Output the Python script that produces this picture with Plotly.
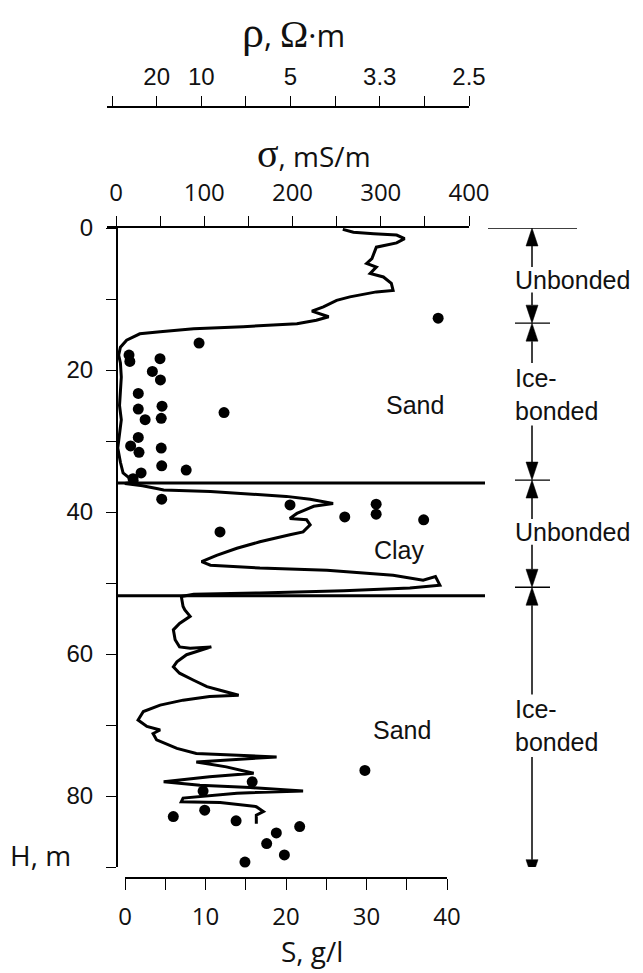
import plotly.graph_objects as go

# ---------------- data ----------------
# conductivity log: sigma (mS/m) vs depth H (m)
sigma_curve = [257, 269, 292, 318, 327, 318, 295, 290, 284, 295, 288, 303, 312, 314, 295, 265,
               250, 235, 222, 241, 227, 205, 144, 88, 50, 27, 12, 5, 3, 5, 6, 5, 4, 6, 4, 2, 5,
               8, 15, 25, 10, 30, 46, 54, 107, 163, 193, 220, 246, 224, 205, 197, 216, 220, 212,
               197, 163, 137, 114, 97, 107, 163, 239, 314, 348, 362, 367, 333, 258, 163, 88, 74,
               76, 78, 84, 72, 65, 67, 72, 84, 108, 80, 69, 65, 72, 88, 103, 118, 139, 106, 76,
               50, 31, 25, 35, 50, 42, 46, 69, 91, 182, 91, 125, 156, 106, 54, 95, 152, 212, 137,
               76, 74, 118, 159, 167, 159, 159]
depth_curve = [0.2, 0.6, 0.8, 1.0, 1.5, 2.1, 2.7, 4.3, 5.0, 5.5, 6.4, 6.9, 7.8, 8.8, 9.0, 9.7,
               10.2, 11.1, 11.7, 12.5, 13.0, 13.5, 13.9, 14.2, 14.6, 14.9, 15.8, 16.8, 17.9, 19.0,
               21.0, 23.0, 25.0, 27.0, 29.0, 31.0, 33.0, 34.5, 35.2, 35.7, 36.0, 36.3, 36.7, 36.9,
               37.1, 37.5, 37.8, 38.2, 38.8, 39.2, 40.2, 40.9, 41.1, 41.8, 42.8, 43.2, 44.2, 45.1,
               46.1, 47.0, 47.5, 47.9, 48.2, 48.9, 49.6, 49.1, 50.3, 50.7, 51.1, 51.4, 51.6, 51.9,
               53.3, 53.8, 54.7, 55.7, 56.6, 58.0, 59.0, 59.2, 59.0, 60.1, 61.1, 61.8, 62.7, 63.7,
               64.6, 65.1, 65.8, 66.0, 66.5, 67.2, 68.1, 69.3, 70.2, 70.7, 71.2, 72.1, 73.3, 74.0,
               74.5, 75.2, 75.9, 76.8, 77.3, 78.0, 78.5, 78.8, 79.3, 79.6, 80.3, 80.8, 80.9, 81.5,
               82.2, 82.7, 83.9]

# pore-water salinity S (g/l) vs depth H (m)
salinity_pts = [38.9, 9.2, 0.5, 0.6, 4.35, 3.4, 4.4, 1.65, 1.65, 4.6, 12.3, 2.5, 4.5, 1.65, 0.7,
                -0.4, 1.74, 4.5, 4.56, 7.6, 2.0, 1.0, 4.56, 20.5, 11.8, 27.3, 31.2, 31.2, 37.1,
                29.8, 15.8, 9.7, 9.9, 6.0, 13.8, 21.7, 18.8, 17.6, 19.8, 14.9]
depth_pts = [12.7, 16.2, 17.9, 18.8, 18.4, 20.2, 21.4, 23.3, 25.5, 25.1, 26.0, 27.0, 26.8, 29.5,
             30.7, 30.9, 31.6, 31.0, 33.5, 34.1, 34.5, 35.3, 38.2, 39.0, 42.8, 40.7, 38.9, 40.3,
             41.1, 76.4, 78.0, 79.3, 82.0, 82.9, 83.5, 84.3, 85.2, 86.7, 88.3, 89.3]

# axis ticks
depth_ticks = [0, 10, 20, 30, 40, 50, 60, 70, 80, 90]
depth_ticktext = ["0", "", "20", "", "40", "", "60", "", "80", ""]
sigma_ticks = [0, 50, 100, 150, 200, 250, 300, 350, 400]
sigma_ticktext = ["0", "", "100", "", "200", "", "300", "", "400"]
rho_ticktext = ["", "20", "10", "", "5", "", "3.3", "", "2.5"]
sal_ticks = [0, 5, 10, 15, 20, 25, 30, 35, 40]
sal_ticktext = ["0", "", "10", "", "20", "", "30", "", "40"]

# lithology
litho_bounds = [35.9, 51.8]
litho_labels = ["Sand", "Clay", "Sand"]
litho_label_sigma = [339, 321, 324]
litho_label_depth = [24.9, 45.3, 70.7]

# frozen state zones (right side)
zone_bounds = [0, 13.4, 35.5, 50.6, 91.5]
zone_labels = ["Unbonded", "Ice-<br>bonded", "Unbonded", "Ice-<br>bonded"]
zone_label_depth = [7.3, 23.4, 42.8, 70.1]

# ---------------- layout constants ----------------
W, Hpx = 643, 973
Y_TOP, Y_BOT = 228, 867          # pixel rows of H=0 and H=90
H_MAX = 90
PX_PER_M = (Y_BOT - Y_TOP) / H_MAX
def py(p):  # pixel row -> paper y
    return 1 - p / Hpx
def px(p):  # pixel col -> paper x
    return p / W

TXT = "#111111"
SANS = "Liberation Sans"
OPEN = "Open Sans"
SERIF = "Liberation Serif"

fig = go.Figure()
fig.add_trace(go.Scatter(x=sigma_curve, y=depth_curve, mode="lines",
                         line=dict(color="black", width=3), xaxis="x", yaxis="y",
                         hoverinfo="skip", cliponaxis=False))
fig.add_trace(go.Scatter(x=salinity_pts, y=depth_pts, mode="markers",
                         marker=dict(color="black", size=11), xaxis="x2", yaxis="y",
                         hoverinfo="skip", cliponaxis=False))
# invisible carrier so the resistivity (rho) axis is drawn
fig.add_trace(go.Scatter(x=sigma_curve[:1], y=depth_curve[:1], mode="markers",
                         marker=dict(opacity=0), xaxis="x3", yaxis="y",
                         hoverinfo="skip", showlegend=False))

axis_common = dict(showgrid=False, zeroline=False, showline=True, linecolor="black",
                   ticks="outside", tickcolor="black", automargin=False)

fig.update_layout(
    width=W, height=Hpx, autosize=False,
    margin=dict(l=0, r=0, t=0, b=0, autoexpand=False),
    paper_bgcolor="white", plot_bgcolor="rgba(0,0,0,0)",
    showlegend=False,
    yaxis=dict(**axis_common, domain=[py(Y_BOT), py(Y_TOP)], range=[H_MAX, 0],
               anchor="free", position=px(117), side="left", linewidth=2,
               ticklen=10, tickwidth=1.3, tickvals=depth_ticks, ticktext=depth_ticktext,
               tickfont=dict(family=SANS, size=24, color=TXT), ticklabelstandoff=8),
    xaxis=dict(**axis_common, domain=[px(107), px(469)], range=[-10.2, 400], side="top",
               anchor="y", linewidth=1.5, ticklen=10, tickwidth=1.3,
               tickvals=sigma_ticks, ticktext=sigma_ticktext,
               tickfont=dict(family=OPEN, size=24, color=TXT), ticklabelstandoff=6),
    xaxis3=dict(**axis_common, domain=[px(111), px(469)], range=[-5.67, 400], side="top",
                anchor="free", position=py(107), overlaying="x", linewidth=1.5,
                ticklen=10, tickwidth=1.3, tickvals=sigma_ticks, ticktext=rho_ticktext,
                tickfont=dict(family=SANS, size=24, color=TXT), ticklabelstandoff=2),
    xaxis2=dict(**axis_common, domain=[px(125), px(447)], range=[0, 40], side="bottom",
                anchor="free", position=py(878), linewidth=2, ticklen=11, tickwidth=1.3,
                tickvals=sal_ticks, ticktext=sal_ticktext,
                tickfont=dict(family=OPEN, size=24, color=TXT), ticklabelstandoff=6),
)

annotations = []
shapes = []

# axis titles
annotations.append(dict(xref="paper", yref="paper", x=px(293), y=py(33), xanchor="center",
                        yanchor="middle", showarrow=False,
                        text=f'<span style="font-family:{SERIF};font-size:44px">ρ</span>, '
                             f'<span style="font-family:{SERIF};font-size:38px">Ω</span>·m',
                        font=dict(family=OPEN, size=31, color=TXT)))
annotations.append(dict(xref="paper", yref="paper", x=px(314), y=py(153), xanchor="center",
                        yanchor="middle", showarrow=False,
                        text=f'<span style="font-family:{SERIF};font-size:40px">σ</span>, mS/m',
                        font=dict(family=OPEN, size=28, color=TXT)))
annotations.append(dict(xref="paper", yref="paper", x=px(312), y=py(951), xanchor="center",
                        yanchor="middle", showarrow=False, text="S, g/l",
                        font=dict(family=OPEN, size=28, color=TXT)))
annotations.append(dict(xref="paper", yref="paper", x=px(8), y=py(855), xanchor="left",
                        yanchor="middle", showarrow=False, text="H, m",
                        font=dict(family=OPEN, size=28, color=TXT)))

# lithology labels and boundaries
for lab, s, d in zip(litho_labels, litho_label_sigma, litho_label_depth):
    annotations.append(dict(xref="x", yref="y", x=s, y=d, showarrow=False, text=lab,
                            xanchor="center", yanchor="middle",
                            font=dict(family=SANS, size=25, color=TXT)))
for b in litho_bounds:
    shapes.append(dict(type="line", xref="paper", yref="y", x0=px(117), x1=px(485),
                       y0=b, y1=b, line=dict(color="black", width=3)))

# frozen-state zone scale on the right
XA = px(532)
for i, b in enumerate(zone_bounds):
    if i == 0 or i == len(zone_bounds) - 1:
        x0, x1 = px(488), px(577)
    else:
        x0, x1 = px(515), px(550)
    shapes.append(dict(type="line", xref="paper", yref="y", x0=x0, x1=x1, y0=b, y1=b,
                       line=dict(color="black", width=1.3)))

TRI_LEN = 18 / PX_PER_M
TRI_HW = 6 / W
for i, lab in enumerate(zone_labels):
    top, bot = zone_bounds[i], zone_bounds[i + 1]
    c = zone_label_depth[i]
    nlines = lab.count("<br>") + 1
    half = 1.8 if nlines == 1 else 4.4
    shapes.append(dict(type="line", xref="paper", yref="y", x0=XA, x1=XA,
                       y0=top + TRI_LEN, y1=c - half, line=dict(color="black", width=1.5)))
    shapes.append(dict(type="line", xref="paper", yref="y", x0=XA, x1=XA,
                       y0=c + half, y1=bot - TRI_LEN, line=dict(color="black", width=1.5)))
    shapes.append(dict(type="path", xref="paper", yref="y",
                       path=f"M {XA},{top} L {XA - TRI_HW},{top + TRI_LEN} L {XA + TRI_HW},{top + TRI_LEN} Z",
                       fillcolor="black", line=dict(color="black", width=0.5)))
    shapes.append(dict(type="path", xref="paper", yref="y",
                       path=f"M {XA},{bot} L {XA - TRI_HW},{bot - TRI_LEN} L {XA + TRI_HW},{bot - TRI_LEN} Z",
                       fillcolor="black", line=dict(color="black", width=0.5)))
    annotations.append(dict(xref="paper", yref="y", x=px(513), y=c, xanchor="left",
                            yanchor="middle", align="left", showarrow=False, text=lab,
                            font=dict(family=SANS, size=25, color=TXT),
                            bgcolor="rgba(0,0,0,0)"))

fig.update_layout(annotations=annotations, shapes=shapes)
fig.write_html("out.html", config={"displayModeBar": False},
               post_script="document.body.style.margin='0';document.body.style.padding='0';")
